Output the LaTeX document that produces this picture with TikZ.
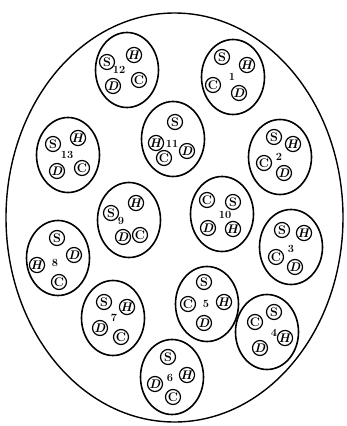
\documentclass[tikz,border=0pt]{standalone}
\usetikzlibrary{shapes.geometric}
\tikzset{
  outer/.style={draw, line width=1.4pt},
  grp/.style={draw, ellipse, line width=1.6pt, minimum width=63pt, minimum height=75pt, inner sep=0pt},
  sym/.style={draw, circle, line width=1.2pt, minimum size=15pt, inner sep=0pt, font=\fontsize{12.5}{12.5}\selectfont\bfseries},
  num/.style={inner sep=0pt, font=\fontsize{11}{11}\selectfont\bfseries}
}
\newcommand\Hs{\textit{H}}
\newcommand\Ds{\textit{D}}
\begin{document}
\begin{tikzpicture}[x=1pt,y=-1pt]
\useasboundingbox (0,0) rectangle (347,426);
\fill[white] (0,0) rectangle (347,426);
\draw[outer] (174.5,217.5) ellipse [x radius=168.5pt, y radius=204.5pt];

% 12
\begin{scope}[shift={(127,70)}]
\node[grp] (g12) at (0,0) {};
\node[sym] (g12s) at (-20,-8) {S};
\node[sym] (g12h) at (7,-15) {\Hs};
\node[sym] (g12d) at (-14,16) {\Ds};
\node[sym] (g12c) at (12,10) {C};
\node[num] (g12n) at (-8,0) {12};
\end{scope}
% 1
\begin{scope}[shift={(233,77)}]
\node[grp] (g1) at (0,0) {};
\node[sym] (g1s) at (-11,-20) {S};
\node[sym] (g1h) at (14,-12) {\Hs};
\node[sym] (g1c) at (-20,8) {C};
\node[sym] (g1d) at (6,16) {\Ds};
\node[num] (g1n) at (-1,0) {1};
\end{scope}
% 11
\begin{scope}[shift={(173,139)}]
\node[grp] (g11) at (0,0) {};
\node[sym] (g11s) at (2,-17) {S};
\node[sym] (g11h) at (-17,4) {\Hs};
\node[sym] (g11d) at (14,12) {\Ds};
\node[sym] (g11c) at (-9,19) {C};
\node[num] (g11n) at (-1,5) {11};
\end{scope}
% 13
\begin{scope}[shift={(68,155)}]
\node[grp] (g13) at (0,0) {};
\node[sym] (g13s) at (-15,-11) {S};
\node[sym] (g13h) at (10,-17) {\Hs};
\node[sym] (g13d) at (-11,16) {\Ds};
\node[sym] (g13c) at (14,13) {C};
\node[num] (g13n) at (-1,0) {13};
\end{scope}
% 2
\begin{scope}[shift={(280,157)}]
\node[grp] (g2) at (0,0) {};
\node[sym] (g2s) at (-6,-20) {S};
\node[sym] (g2h) at (13,-13) {\Hs};
\node[sym] (g2c) at (-16,6) {C};
\node[sym] (g2d) at (4,16) {\Ds};
\node[num] (g2n) at (-1,0) {2};
\end{scope}
% 9
\begin{scope}[shift={(129,220)}]
\node[grp] (g9) at (0,0) {};
\node[sym] (g9s) at (-18,-7) {S};
\node[sym] (g9h) at (7,-17) {\Hs};
\node[sym] (g9d) at (-6,17) {\Ds};
\node[sym] (g9c) at (11,15) {C};
\node[num] (g9n) at (-8,1) {9};
\end{scope}
% 10
\begin{scope}[shift={(222,214)}]
\node[grp] (g10) at (0,0) {};
\node[sym] (g10c) at (-15,-14) {C};
\node[sym] (g10s) at (11,-12) {S};
\node[sym] (g10d) at (-14,14) {\Ds};
\node[sym] (g10h) at (11,15) {\Hs};
\node[num] (g10n) at (3,1) {10};
\end{scope}
% 3
\begin{scope}[shift={(291,247)}]
\node[grp] (g3) at (0,0) {};
\node[sym] (g3s) at (-9,-17) {S};
\node[sym] (g3h) at (13,-14) {\Hs};
\node[sym] (g3c) at (-15,10) {C};
\node[sym] (g3d) at (4,20) {\Ds};
\node[num] (g3n) at (0,2) {3};
\end{scope}
% 8
\begin{scope}[shift={(58,258)}]
\node[grp] (g8) at (0,0) {};
\node[sym] (g8s) at (-1,-20) {S};
\node[sym] (g8h) at (-21,7) {\Hs};
\node[sym] (g8d) at (16,-3) {\Ds};
\node[sym] (g8c) at (1,24) {C};
\node[num] (g8n) at (-3,5) {8};
\end{scope}
% 5
\begin{scope}[shift={(207,304)}]
\node[grp] (g5) at (0,0) {};
\node[sym] (g5s) at (-3,-22) {S};
\node[sym] (g5c) at (-19,0) {C};
\node[sym] (g5h) at (17,-2) {\Hs};
\node[sym] (g5d) at (-3,19) {\Ds};
\node[num] (g5n) at (-1,0) {5};
\end{scope}
% 7
\begin{scope}[shift={(113,318)}]
\node[grp] (g7) at (0,0) {};
\node[sym] (g7s) at (-9,-16) {S};
\node[sym] (g7h) at (14,-11) {\Hs};
\node[sym] (g7d) at (-13,10) {\Ds};
\node[sym] (g7c) at (8,19) {C};
\node[num] (g7n) at (1,0) {7};
\end{scope}
% 4
\begin{scope}[shift={(267,332)}]
\node[grp] (g4) at (0,0) {};
\node[sym] (g4s) at (7,-20) {S};
\node[sym] (g4c) at (-12,-10) {C};
\node[sym] (g4h) at (18,6) {\Hs};
\node[sym] (g4d) at (-7,16) {\Ds};
\node[num] (g4n) at (7,1) {4};
\end{scope}
% 6
\begin{scope}[shift={(172,377)}]
\node[grp] (g6) at (0,0) {};
\node[sym] (g6s) at (-4,-20) {S};
\node[sym] (g6h) at (15,-2) {\Hs};
\node[sym] (g6d) at (-17,7) {\Ds};
\node[sym] (g6c) at (1,20) {C};
\node[num] (g6n) at (-2,1) {6};
\end{scope}
\end{tikzpicture}
\end{document}
